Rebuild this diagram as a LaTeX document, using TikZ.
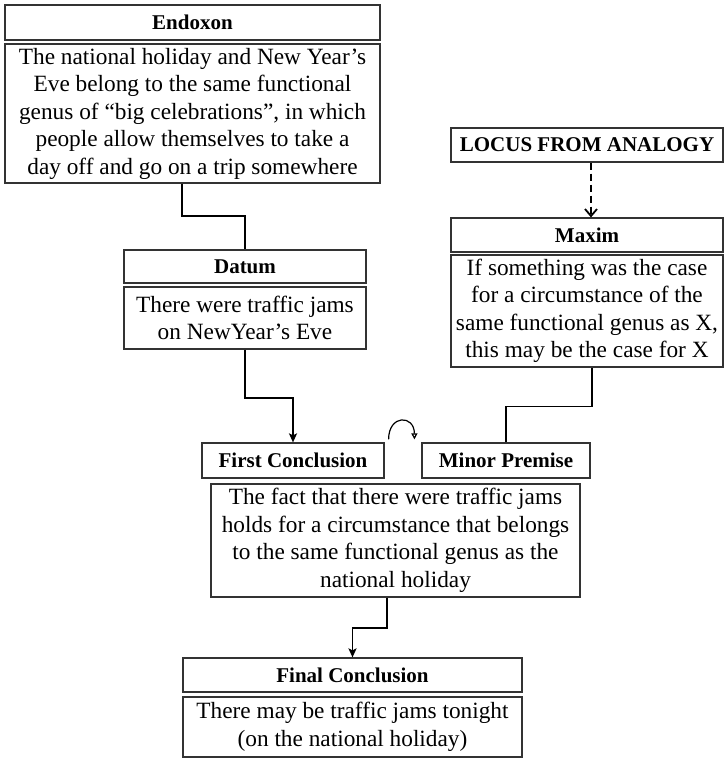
\documentclass[tikz,border=0pt]{standalone}
\usepackage{fontspec}
\setmainfont{Liberation Serif}
\usetikzlibrary{arrows.meta,calc}
\definecolor{edge}{HTML}{333333}
\tikzset{
  box/.style={draw=edge, line width=1.2pt, rectangle, inner sep=0pt, align=center, anchor=center},
  headbox/.style={box, font=\fontsize{21}{26}\selectfont\bfseries},
  textbox/.style={box, font=\fontsize{23.3}{27.5}\selectfont},
  conn/.style={line width=1.8pt, black},
  solidtip/.style={-{Stealth[length=9pt,width=8pt,inset=2pt]}},
}
\begin{document}
\begin{tikzpicture}[x=1pt,y=-1pt]
\useasboundingbox (0,0) rectangle (724,759);

% Endoxon
\node[headbox, minimum width=375pt, minimum height=35pt] (endT) at (192.5,22.5) {Endoxon};
\node[textbox, minimum width=375pt, minimum height=139pt] (endC) at (192.5,113.5)
  {The national holiday and New Year’s\\Eve belong to the same functional\\genus of “big celebrations”, in which\\people allow themselves to take a\\day off and go on a trip somewhere};

% Datum
\node[headbox, minimum width=242pt, minimum height=33pt] (datT) at (245,266.5) {Datum};
\node[textbox, minimum width=242pt, minimum height=62pt] (datC) at (245,318)
  {There were traffic jams\\on NewYear’s Eve};

% Locus and maxim
\node[headbox, minimum width=272pt, minimum height=34pt] (locus) at (587,145) {LOCUS FROM ANALOGY};
\node[headbox, minimum width=272pt, minimum height=34pt] (maxT) at (587,235) {Maxim};
\node[textbox, minimum width=272pt, minimum height=112pt] (maxC) at (587,311)
  {If something was the case\\for a circumstance of the\\same functional genus as X,\\this may be the case for X};

% First conclusion / minor premise
\node[headbox, minimum width=182pt, minimum height=35pt] (firstC) at (293,460.5) {First Conclusion};
\node[headbox, minimum width=168pt, minimum height=35pt] (minorP) at (506,460.5) {Minor Premise};
\node[textbox, minimum width=369pt, minimum height=113pt] (minC) at (395.5,540.5)
  {The fact that there were traffic jams\\holds for a circumstance that belongs\\to the same functional genus as the\\national holiday};

% Final conclusion
\node[headbox, minimum width=339pt, minimum height=34pt] (finT) at (352.5,675) {Final Conclusion};
\node[textbox, minimum width=339pt, minimum height=60pt] (finC) at (352.5,727)
  {There may be traffic jams tonight\\(on the national holiday)};

% Connectors
\draw[conn] ([xshift=-10.5pt]endC.south) -- ++(0,32) -| (datT.north);
\draw[conn, solidtip] (datC.south) -- ++(0,48) -| (firstC.north);
\draw[conn] (minorP.north) -- ++(0,-36) -| ([xshift=5pt]maxC.south);
\draw[conn, dashed, dash pattern=on 7pt off 4pt, -{Straight Barb[length=7pt,width=12pt,line width=1.8pt]}]
  ([xshift=4pt]locus.south) -- ([xshift=4pt]maxT.north);
\draw[conn, solidtip] ([xshift=-8.5pt]minC.south) -- ++(0,30) -| (finT.north);

% Curved arrow between first conclusion and minor premise
\coordinate (cA) at ($(firstC.north east)+(4,-3)$);
\coordinate (cB) at ($(minorP.north west)+(-7,-3)$);
\draw[line width=1.2pt, -{Triangle[open,length=6pt,width=6pt]}]
  (cA) .. controls ($(cA)+(0,-25)$) and ($(cB)+(0,-25)$) .. (cB);
\end{tikzpicture}
\end{document}
